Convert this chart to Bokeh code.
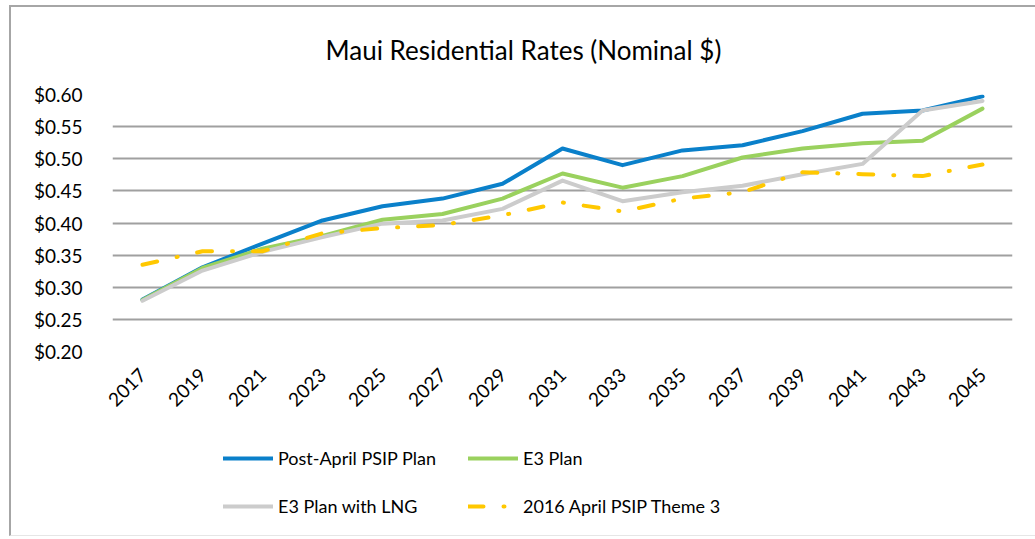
from bokeh.plotting import figure
from bokeh.models import (Range1d, FixedTicker, NumeralTickFormatter, Legend, LegendItem,
                          ColumnDataSource)
from bokeh.layouts import column
from bokeh.embed import file_html
from bokeh.resources import INLINE
import math

years = [2017, 2019, 2021, 2023, 2025, 2027, 2029, 2031, 2033, 2035, 2037, 2039, 2041, 2043, 2045]
post_april = [0.281, 0.331, 0.368, 0.404, 0.426, 0.438, 0.461, 0.516, 0.490, 0.513, 0.521, 0.543, 0.570, 0.575, 0.597]
e3_plan = [0.280, 0.330, 0.360, 0.380, 0.405, 0.414, 0.438, 0.477, 0.455, 0.473, 0.502, 0.516, 0.524, 0.528, 0.578]
e3_lng = [0.279, 0.326, 0.355, 0.378, 0.399, 0.404, 0.422, 0.466, 0.434, 0.448, 0.458, 0.476, 0.492, 0.575, 0.590]
theme3 = [0.335, 0.356, 0.356, 0.384, 0.392, 0.397, 0.412, 0.432, 0.418, 0.438, 0.448, 0.479, 0.476, 0.473, 0.491]
y_ticks = [0.20, 0.25, 0.30, 0.35, 0.40, 0.45, 0.50, 0.55, 0.60]
series_names = ["Post-April PSIP Plan", "E3 Plan", "E3 Plan with LNG", "2016 April PSIP Theme 3"]

FONT = "Lato"
styles = [dict(line_color="#0A80CA", line_width=4, line_join="round", line_cap="round"),
          dict(line_color="#9AD15E", line_width=4, line_join="round", line_cap="round"),
          dict(line_color="#CCCCCC", line_width=4, line_join="round", line_cap="round"),
          dict(line_color="#FFC800", line_width=4, line_join="round", line_cap="round",
               line_dash="15 20 1 20")]
cols = ["a", "b", "c", "d"]

src = ColumnDataSource(dict(x=years, a=post_april, b=e3_plan, c=e3_lng, d=theme3))

# ---- main chart ----
p = figure(width=1035, height=420, output_backend="svg", toolbar_location=None,
           x_range=Range1d(2016, 2046), y_range=Range1d(0.20, 0.60),
           min_border_left=112, min_border_right=23, min_border_top=94, min_border_bottom=69)

p.title.text = "Maui Residential Rates (Nominal $)"
p.title.align = "left"
p.title.offset = 213
p.title.text_font = FONT
p.title.text_font_size = "26px"
p.title.text_font_style = "normal"
p.title.text_color = "#000000"
p.title.standoff = 58

p.outline_line_color = None
p.xgrid.grid_line_color = None
p.ygrid.grid_line_color = "#a0a0a0"
p.ygrid.grid_line_width = 2

p.xaxis.ticker = FixedTicker(ticks=years)
p.yaxis.ticker = FixedTicker(ticks=y_ticks)
p.yaxis.formatter = NumeralTickFormatter(format="$0.00")
for ax in (p.xaxis, p.yaxis):
    ax.axis_line_color = None
    ax.major_tick_line_color = None
    ax.minor_tick_line_color = None
    ax.major_label_text_font = FONT
    ax.major_label_text_font_size = "19px"
    ax.major_label_text_color = "#000000"
p.yaxis.major_label_standoff = 24
p.xaxis.major_label_orientation = math.pi / 4
p.xaxis.major_label_standoff = 14

for c, st in zip(cols, styles):
    p.line("x", c, source=src, **st)

# ---- legend strip: same series, ranged out of view, only to supply legend glyphs ----
pl = figure(width=1035, height=119, output_backend="svg", toolbar_location=None,
            x_range=Range1d(2016, 2046), y_range=Range1d(10, 11),
            x_axis_location=None, y_axis_location=None,
            min_border_left=0, min_border_right=0, min_border_top=0, min_border_bottom=0)
pl.outline_line_color = None
pl.grid.visible = False
items = []
for name, c, st in zip(series_names, cols, styles):
    r = pl.line("x", c, source=src, **st)
    items.append(LegendItem(label=name, renderers=[r]))

legend = Legend(items=items, orientation="horizontal", ncols=2, location=(111, 9))
legend.label_text_font = FONT
legend.label_text_font_size = "18px"
legend.label_text_color = "#000000"
legend.glyph_width = 50
legend.glyph_height = 48
legend.label_height = 48
legend.label_width = 190
legend.label_standoff = 5
legend.spacing = 0
legend.padding = 0
legend.margin = 0
legend.border_line_alpha = 0
legend.background_fill_alpha = 0
pl.add_layout(legend, "center")

layout = column(p, pl, spacing=0)
layout.stylesheets = [":host { position: relative; } "
                      ":host::after { content: ''; position: absolute; left: 9px; top: 5px; "
                      "width: calc(100% - 9px); height: 531px; pointer-events: none; "
                      "border-left: 2px solid #a6a6a6; border-top: 2px solid #a6a6a6; "
                      "border-bottom: 1px solid #e6e6e6; box-sizing: border-box; }"]

open("out.html", "w").write(file_html(layout, INLINE))
